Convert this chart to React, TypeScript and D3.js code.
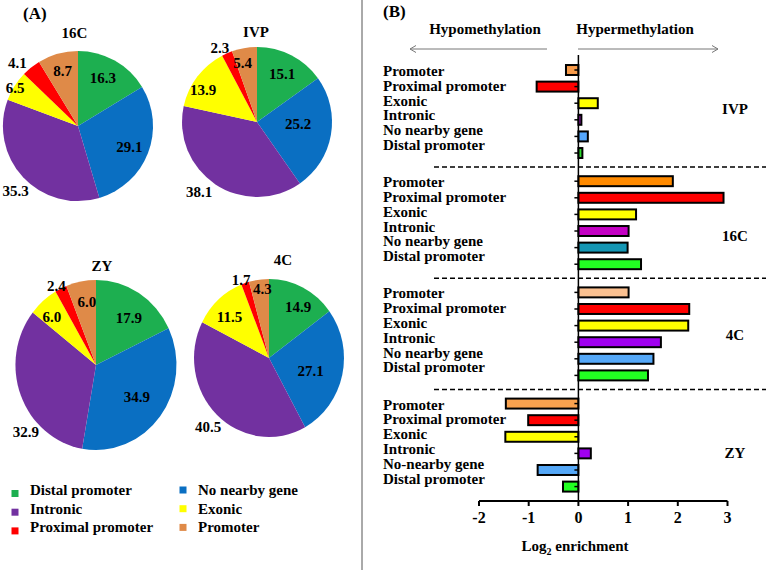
import React from "react";
import * as d3 from "d3";

// ---------- DATA ----------
const pieCategories = ["Distal promoter", "No nearby gene", "Intronic", "Exonic", "Proximal promoter", "Promoter"];
const pieNames = ["16C", "IVP", "ZY", "4C"];
const pie16C = [16.3, 29.1, 35.3, 6.5, 4.1, 8.7];
const pieIVP = [15.1, 25.2, 38.1, 13.9, 2.3, 5.4];
const pieZY = [17.9, 34.9, 32.9, 6.0, 2.4, 6.0];
const pie4C = [14.9, 27.1, 40.5, 11.5, 1.7, 4.3];

const barGroups = ["IVP", "16C", "4C", "ZY"];
const barCategories = ["Promoter", "Proximal promoter", "Exonic", "Intronic", "No nearby gene", "Distal promoter"];
const barLabelsZY = ["Promoter", "Proximal promoter", "Exonic", "Intronic", "No-nearby gene", "Distal promoter"];
const barIVP = [-0.25, -0.84, 0.39, 0.06, 0.19, 0.08];
const bar16C = [1.9, 2.92, 1.16, 1.01, 0.99, 1.26];
const bar4C = [1.01, 2.23, 2.21, 1.66, 1.51, 1.4];
const barZY = [-1.46, -1.01, -1.47, 0.25, -0.82, -0.31];
const xTicks = [-2, -1, 0, 1, 2, 3];

// ---------- STYLE / LAYOUT ----------
const FONT = '"Liberation Serif", "Times New Roman", Times, serif';
const pieColors = ["#1DAF50", "#0A6FC2", "#7231A0", "#FFFF00", "#FF0000", "#DF8A48"];
const barColors: Record<string, string[]> = {
  IVP: ["#F79B4A", "#FF0000", "#FFFF00", "#A41EC4", "#55A8FF", "#2BD92B"],
  "16C": ["#FF8A00", "#FF0000", "#FFFF00", "#C400C4", "#1496B4", "#22FF22"],
  "4C": ["#FAC090", "#FF0000", "#FFFF00", "#A000F0", "#55A8F8", "#22FF22"],
  ZY: ["#F9A24F", "#FF0000", "#FFFF00", "#A000F0", "#55A8F8", "#22FF22"],
};
const pieValues: Record<string, number[]> = { "16C": pie16C, IVP: pieIVP, ZY: pieZY, "4C": pie4C };
const barValues: Record<string, number[]> = { IVP: barIVP, "16C": bar16C, "4C": bar4C, ZY: barZY };

const pieLayout: Record<string, any> = {
  "16C": { cx: 78, cy: 126, rx: 75, ry: 75, tx: 74.5, ty: 38, f: [0.72, 0.74, 1.2, 0.98, 1.17, 0.76], n: [-2, 1, -3, -1, -5, 0] },
  IVP: { cx: 257, cy: 122, rx: 75, ry: 75, tx: 256, ty: 37, f: [0.73, 0.55, 1.21, 0.84, 1.11, 0.81], n: [0, -7, 6, -6, -3, -4] },
  ZY: { cx: 96, cy: 365, rx: 80.5, ry: 85, tx: 102, ty: 271, f: [0.69, 0.63, 1.17, 0.79, 1.05, 0.75], n: [4, -1, -21, -3, -2, 2] },
  "4C": { cx: 269, cy: 358, rx: 75, ry: 79, tx: 283, ty: 265, f: [0.76, 0.58, 1.19, 0.74, 1.06, 0.88], n: [4, 4, -1, -3, -2, 2] },
};
const groupLabelOffset = [47, 63, 51, 58];

const T: React.CSSProperties = { fontFamily: FONT, fontWeight: 700 };

export default function App() {
  const W = 768, H = 570;
  const pieGen = d3.pie<number>().sort(null).value((d) => d);
  const arcGen = d3.arc<d3.PieArcDatum<number>>().innerRadius(0).outerRadius(1);

  const x = d3.scaleLinear().domain([-2, 3]).range([479, 727.5]);
  const yGroup = d3.scaleBand<string>().domain(barGroups).range([61.7, 494.9]).paddingInner(0.104).paddingOuter(0);
  const yCat = d3.scaleBand<string>().domain(barCategories).range([0, yGroup.bandwidth()]).paddingInner(0.4).paddingOuter(0.2);
  const yLab = d3.scalePoint<string>().domain(barCategories).range([0, 74]);
  const firstCenter = (yCat(barCategories[0]) as number) + yCat.bandwidth() / 2;
  const zeroX = x(0);
  const axisY = 501;

  const legendRows = [
    [pieCategories[0], pieCategories[1]],
    [pieCategories[2], pieCategories[3]],
    [pieCategories[4], pieCategories[5]],
  ];

  return (
    <svg width={W} height={H} style={{ position: "absolute", left: 0, top: 0, background: "#fff", fontFamily: FONT }}>
      <rect width={W} height={H} fill="#fff" />
      <text x={23} y={19} fontSize={17} style={T}>(A)</text>
      {pieNames.map((name) => {
        const L = pieLayout[name];
        const vals = pieValues[name];
        const arcs = pieGen(vals);
        return (
          <g key={name}>
            <g transform={`translate(${L.cx},${L.cy}) scale(${L.rx},${L.ry})`}>
              {arcs.map((a, i) => (
                <path key={i} d={arcGen(a) as string} fill={pieColors[i]} />
              ))}
            </g>
            <text x={L.tx} y={L.ty} textAnchor="middle" fontSize={15} style={T}>{name}</text>
            {arcs.map((a, i) => {
              const ang = (a.startAngle + a.endAngle) / 2 + (L.n[i] * Math.PI) / 180;
              const lx = L.cx + Math.sin(ang) * L.rx * L.f[i];
              const ly = L.cy - Math.cos(ang) * L.ry * L.f[i];
              return (
                <text key={i} x={lx} y={ly} dy="0.35em" textAnchor="middle" fontSize={15} style={T}>
                  {vals[i].toFixed(1)}
                </text>
              );
            })}
          </g>
        );
      })}
      {legendRows.map((row, r) =>
        row.map((cat, c) => {
          const base = 495 + r * 18.7;
          const sx = c === 0 ? 15 : 183;
          const sy = c === 0 ? base - 1.5 : base - 5;
          const ci = pieCategories.indexOf(cat);
          return (
            <g key={cat}>
              <rect x={sx - 3.5} y={sy - 3.5} width={7} height={7} fill={pieColors[ci]} />
              <text x={c === 0 ? 30 : 198} y={base} fontSize={15} style={T}>{cat}</text>
            </g>
          );
        })
      )}

      <line x1={362} x2={362} y1={0} y2={570} stroke="#555" strokeWidth={1} />

      <text x={383} y={17} fontSize={17} style={T}>(B)</text>
      <text x={485} y={34} textAnchor="middle" fontSize={15} style={T}>Hypomethylation</text>
      <text x={635} y={34} textAnchor="middle" fontSize={15} style={T}>Hypermethylation</text>
      <g stroke="#777" strokeWidth={1} fill="none">
        <line x1={547} x2={410} y1={49} y2={49} />
        <path d="M416,45.5 L410,49 L416,52.5" />
        <line x1={578} x2={718} y1={49} y2={49} />
        <path d="M712,45.5 L718,49 L712,52.5" />
      </g>

      {barGroups.slice(1).map((g) => {
        const y = (yGroup(g) as number) - (yGroup.step() - yGroup.bandwidth()) / 2;
        return <line key={g} x1={434} x2={766} y1={y} y2={y} stroke="#000" strokeWidth={1.5} strokeDasharray="5,3" />;
      })}

      {barGroups.map((g, gi) => {
        const gy = yGroup(g) as number;
        const vals = barValues[g];
        const labels = g === "ZY" ? barLabelsZY : barCategories;
        return (
          <g key={g}>
            {barCategories.map((cat, i) => {
              const v = vals[i];
              const y0 = gy + (yCat(cat) as number);
              return (
                <rect
                  key={cat}
                  x={Math.min(x(v), zeroX)}
                  y={y0}
                  width={Math.abs(x(v) - zeroX)}
                  height={yCat.bandwidth()}
                  fill={barColors[g][i]}
                  stroke="#000"
                  strokeWidth={2}
                />
              );
            })}
            {barCategories.map((cat) => {
              const yc = gy + (yCat(cat) as number) + yCat.bandwidth() / 2;
              return <line key={"t" + cat} x1={zeroX - 4} x2={zeroX} y1={yc} y2={yc} stroke="#000" strokeWidth={1.5} />;
            })}
            {labels.map((lab, i) => (
              <text key={"l" + i} x={383} y={gy + firstCenter + 1 + (yLab(barCategories[i]) as number) + 5} fontSize={15} style={T}>
                {lab}
              </text>
            ))}
            <text x={735} y={gy + groupLabelOffset[gi] + 5} textAnchor="middle" fontSize={15} style={T}>{g}</text>
          </g>
        );
      })}

      <line x1={zeroX} x2={zeroX} y1={55} y2={axisY} stroke="#000" strokeWidth={1.5} />

      <line x1={x(-2)} x2={x(3)} y1={axisY} y2={axisY} stroke="#000" strokeWidth={2} />
      {xTicks.map((t) => (
        <g key={t}>
          <line x1={x(t)} x2={x(t)} y1={axisY} y2={axisY + 5} stroke="#000" strokeWidth={2} />
          <text x={x(t)} y={523} textAnchor="middle" fontSize={16} style={T}>{t}</text>
        </g>
      ))}
      <text x={575} y={551} textAnchor="middle" fontSize={15} style={T}>
        Log<tspan fontSize={10} dy={4}>2</tspan>
        <tspan dy={-4}> enrichment</tspan>
      </text>
    </svg>
  );
}
